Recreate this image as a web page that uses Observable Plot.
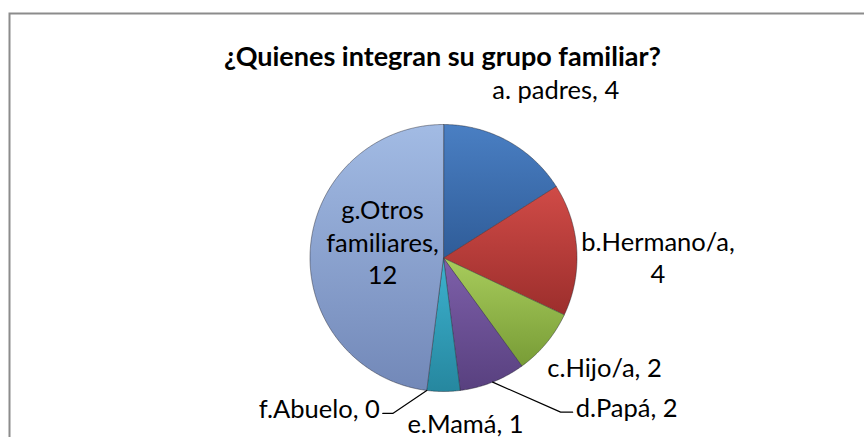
<!DOCTYPE html>
<html>
<head>
<meta charset="utf-8">
<script src="https://cdn.jsdelivr.net/npm/d3@7"></script>
<script src="https://cdn.jsdelivr.net/npm/@observablehq/plot@0.6"></script>
<style>
  html, body { margin: 0; padding: 0; background: #fff; }
  #chart { width: 864px; height: 437px; overflow: hidden; }
  svg { font-family: Lato, "Open Sans", sans-serif; }
</style>
</head>
<body>
<div id="chart"></div>
<script>
// ---- data ----
const title = "¿Quienes integran su grupo familiar?";
const categories = ["a. padres", "b.Hermano/a", "c.Hijo/a", "d.Papá", "e.Mamá", "f.Abuelo", "g.Otros familiares"];
const values = [4, 4, 2, 2, 1, 0, 12];
const labelTexts = ["a. padres, 4", "b.Hermano/a,\n4", "c.Hijo/a, 2", "d.Papá, 2", "e.Mamá, 1", "f.Abuelo, 0", "g.Otros\nfamiliares,\n12"];
const colorTop = ["#4a7fc3", "#d04b47", "#a8cc5c", "#7e60aa", "#3db2cf", "#f7a35c", "#a2bbe4"];
const colorBottom = ["#2f5c98", "#9c2e2c", "#789c36", "#58407f", "#26879f", "#c0772f", "#7288b8"];

// ---- layout (px) ----
const W = 864, H = 437, CX = 443, CY = 257.5, R = 133.5;
// label placement: radius factor k from slice mid-angle, px offsets
const labelLayout = [
  {k: 1.45, dx: 19, dy: 0, anchor: "middle"},
  {k: 1.61, dx: 0, dy: 12, anchor: "middle"},
  {k: 1.565, dx: 0, dy: -25, anchor: "middle"},
  {k: 1, leader: [68, 30, 80], dx: 83, dy: 24, anchor: "start", at: "mid"},
  {k: 1.247, dx: 22, dy: -2, anchor: "middle"},
  {k: 1, leader: [-34, 23, -44], dx: -47, dy: 17, anchor: "end", at: "start"},
  {k: 0.458, dx: 0, dy: -13, anchor: "middle"}
];

const total = d3.sum(values);
let acc = 0;
const slices = values.map((v, i) => {
  const a0 = acc / total * 2 * Math.PI;
  acc += v;
  const a1 = acc / total * 2 * Math.PI;
  return {i, v, a0, a1, mid: (a0 + a1) / 2};
});

// polar (clockwise from 12 o'clock) -> data units (y up)
const px = (a, k) => k * Math.sin(a);
const py = (a, k) => k * Math.cos(a);

const marks = [];
marks.push(Plot.frame({stroke: "#8c8c8c", strokeWidth: 2, insetLeft: 9, insetTop: 13, insetRight: -20, insetBottom: -20}));

slices.forEach(s => {
  if (s.v <= 0) return;
  const pts = [{x: 0, y: 0}];
  const n = Math.max(4, Math.ceil((s.a1 - s.a0) / (Math.PI / 360)));
  for (let j = 0; j <= n; j++) {
    const a = s.a0 + (s.a1 - s.a0) * j / n;
    pts.push({x: px(a, 1), y: py(a, 1)});
  }
  marks.push(Plot.line(pts, {
    x: "x", y: "y", curve: "linear-closed",
    fill: `url(#grad${s.i})`, stroke: "rgba(30,30,40,0.55)", strokeWidth: 0.8, strokeLinejoin: "round"
  }));
});

// labels
const labelData = [];
const leaderLines = [];
slices.forEach(s => {
  const L = labelLayout[s.i];
  const a = L.at === "start" ? s.a0 : s.mid;
  const bx = px(a, L.k), by = py(a, L.k);
  if (L.leader) {
    const [ex, ey, hx] = L.leader;
    leaderLines.push([
      {x: bx, y: by, s: s.i},
      {x: bx + ex / R, y: by - ey / R, s: s.i},
      {x: bx + hx / R, y: by - ey / R, s: s.i}
    ]);
  }
  labelData.push({x: bx + L.dx / R, y: by - L.dy / R, text: labelTexts[s.i], anchor: L.anchor});
});
leaderLines.forEach(line => marks.push(Plot.line(line, {x: "x", y: "y", stroke: "#000", strokeWidth: 1.2})));
["start", "middle", "end"].forEach(anchor => {
  marks.push(Plot.text(labelData.filter(d => d.anchor === anchor), {
    x: "x", y: "y", text: "text", textAnchor: anchor, lineAnchor: "middle",
    fontSize: 25.5, lineHeight: 1.28, fill: "#000"
  }));
});

marks.push(Plot.text([title], {
  frameAnchor: "top", dx: 10, dy: 57, lineAnchor: "middle",
  fontSize: 27, fontWeight: "bold", fill: "#000"
}));

const chart = Plot.plot({
  width: W, height: H,
  margin: 0,
  x: {domain: [-CX / R, (W - CX) / R], axis: null},
  y: {domain: [(CY - H) / R, CY / R], axis: null},
  style: {background: "#fff", overflow: "hidden"},
  marks
});

// gradient defs for bevel-like shading
const ns = "http://www.w3.org/2000/svg";
const defs = document.createElementNS(ns, "defs");
colorTop.forEach((c, i) => {
  const g = document.createElementNS(ns, "linearGradient");
  g.setAttribute("id", "grad" + i);
  g.setAttribute("x1", "0"); g.setAttribute("y1", "0");
  g.setAttribute("x2", "0"); g.setAttribute("y2", "1");
  [[0, c], [1, colorBottom[i]]].forEach(([o, col]) => {
    const st = document.createElementNS(ns, "stop");
    st.setAttribute("offset", o);
    st.setAttribute("stop-color", col);
    g.appendChild(st);
  });
  defs.appendChild(g);
});
chart.insertBefore(defs, chart.firstChild);
document.getElementById("chart").appendChild(chart);
</script>
</body>
</html>
